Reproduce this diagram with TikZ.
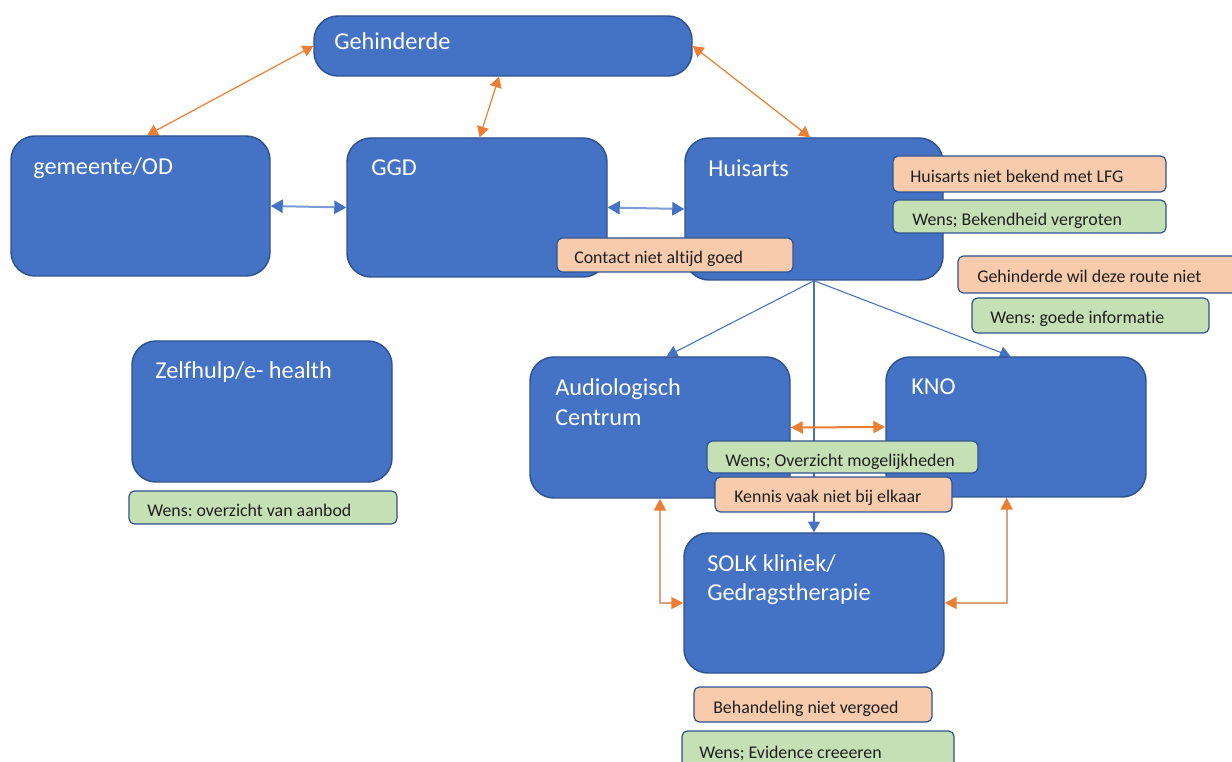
\documentclass[tikz,border=0pt]{standalone}
\usepackage{fontspec}
\setmainfont[Ligatures=NoCommon]{Carlito}
\usetikzlibrary{arrows.meta,backgrounds}
\definecolor{boxblue}{HTML}{4472C4}
\definecolor{boxedge}{HTML}{2F528F}
\definecolor{peach}{HTML}{F8CBAD}
\definecolor{mint}{HTML}{C5E0B4}
\definecolor{arrorange}{HTML}{ED7D31}
\definecolor{tanline}{HTML}{DDA27C}
\definecolor{linkblue}{HTML}{4472C4}
\definecolor{paleblue}{HTML}{7C9BD6}
\tikzset{
 bigbox/.style={draw=boxedge, fill=boxblue, line width=1.1pt, rounded corners=18pt, inner sep=0pt},
 notebox/.style={draw=boxedge, line width=0.9pt, rounded corners=4pt, inner sep=0pt},
 problem/.style={notebox, fill=peach},
 wish/.style={notebox, fill=mint},
 bigtext/.style={anchor=base west, inner sep=0pt, text=white, font=\fontsize{18.2}{22}\selectfont},
 smalltext/.style={anchor=base west, inner sep=0pt, text=black!88, font=\fontsize{13.4}{16}\selectfont},
 orangetwo/.style={draw=arrorange, line width=0.9pt, {Triangle[length=8pt,width=9pt]}-{Triangle[length=8pt,width=9pt]}},
 orangethick/.style={draw=arrorange, line width=1.5pt, {Triangle[length=9pt,width=9pt]}-{Triangle[length=9pt,width=9pt]}},
 orangeelbow/.style={draw=tanline, line width=1.4pt, {Triangle[length=9pt,width=9pt,color=arrorange]}-{Triangle[length=9pt,width=9pt,color=arrorange]}},
 bluetwo/.style={draw=paleblue, line width=1.5pt, {Triangle[length=9pt,width=10pt,color=linkblue]}-{Triangle[length=9pt,width=10pt,color=linkblue]}},
 blueone/.style={draw=linkblue, line width=0.8pt, -{Triangle[length=8pt,width=9pt]}},
}
\newcommand\mkbox[6]{\node[#6, minimum width={(#4-#2)*0.75pt}, minimum height={(#5-#3)*0.75pt}] (#1) at ({(#2+#4)/2},{(#3+#5)/2}) {};}
\begin{document}
\frenchspacing
\begin{tikzpicture}[x=0.75pt,y=-0.75pt]
\useasboundingbox (0,0) rectangle (1232,762);
\begin{pgfonlayer}{background}
\fill[white] (0,0) rectangle (1232,762);
\end{pgfonlayer}
\clip (0,0) rectangle (1232,762);
% big boxes
\mkbox{geh}{314}{16}{692}{76}{bigbox}
\mkbox{gem}{11}{136}{270}{276}{bigbox}
\mkbox{ggd}{347}{138}{607}{277}{bigbox}
\mkbox{huis}{685}{138}{943}{280}{bigbox}
\mkbox{zelf}{132}{341}{392}{482}{bigbox}
\mkbox{aud}{530}{357}{790}{498}{bigbox}
\mkbox{kno}{886}{357}{1146}{497}{bigbox}
\mkbox{solk}{684}{533}{944}{673}{bigbox}
\node[bigtext] (gehT) at (334,50) {Gehinderde};
\node[bigtext] (gemT) at (33,175) {gemeente/OD};
\node[bigtext] (ggdT) at (371,176) {GGD};
\node[bigtext] (huisT) at (708,177) {Huisarts};
\node[bigtext] (zelfT) at (155,379) {Zelfhulp/e- health};
\node[bigtext] (audT1) at (555,396) {Audiologisch};
\node[bigtext] (audT2) at (555,426) {Centrum};
\node[bigtext] (knoT) at (911,395) {KNO};
\node[bigtext] (solkT1) at (707,572) {SOLK kliniek/};
\node[bigtext] (solkT2) at (707,601) {Gedragstherapie};
% note boxes
\mkbox{n1}{893}{156}{1166}{192}{problem}
\node[smalltext] (n1T) at (910,183) {Huisarts niet bekend met LFG};
\mkbox{n2}{893}{200}{1166}{233}{wish}
\node[smalltext] (n2T) at (912,226) {Wens; Bekendheid vergroten};
\mkbox{n3}{557}{238}{793}{272}{problem}
\node[smalltext] (n3T) at (574,264) {Contact niet altijd goed};
\mkbox{n4}{958}{256}{1240}{293}{problem}
\node[smalltext] (n4T) at (977,283) {Gehinderde wil deze route niet};
\mkbox{n5}{972}{298}{1209}{333}{wish}
\node[smalltext] (n5T) at (990,324) {Wens: goede informatie};
\mkbox{n6}{129}{491}{397}{524}{wish}
\node[smalltext] (n6T) at (147,517) {Wens: overzicht van aanbod};
\mkbox{n7}{707}{441}{978}{473}{wish}
\node[smalltext] (n7T) at (725,467) {Wens; Overzicht mogelijkheden};
\mkbox{n8}{715}{477}{952}{512}{problem}
\node[smalltext] (n8T) at (734,503) {Kennis vaak niet bij elkaar};
\mkbox{n9}{694}{687}{932}{722}{problem}
\node[smalltext] (n9T) at (713,713) {Behandeling niet vergoed};
\mkbox{n10}{682}{731}{954}{790}{wish}
\node[smalltext] (n10T) at (699,758) {Wens; Evidence creeeren};
% connectors
\begin{pgfonlayer}{background}
\draw[orangetwo] (geh.west) -- ([xshift=5pt]gem.north);
\draw[orangetwo] ([xshift=-3pt]geh.south) -- ([xshift=2pt]ggd.north);
\draw[orangetwo] (geh.east) -- ([xshift=-3pt]huis.north);
\draw[bluetwo] (gem.east) -- (ggd.west);
\draw[bluetwo] (ggd.east) -- (huis.west);
\draw[blueone] (huis.south) -- ([xshift=5pt]aud.north);
\draw[blueone] (huis.south) -- ([xshift=-4pt]kno.north);
\draw[blueone] (huis.south) -- (solk.north);
\draw[orangethick] (aud.east) -- (kno.west);
\draw[orangeelbow] (aud.south) |- (solk.west);
\draw[orangeelbow] ([xshift=-7pt]kno.south) |- (solk.east);
\end{pgfonlayer}
\end{tikzpicture}
\end{document}
